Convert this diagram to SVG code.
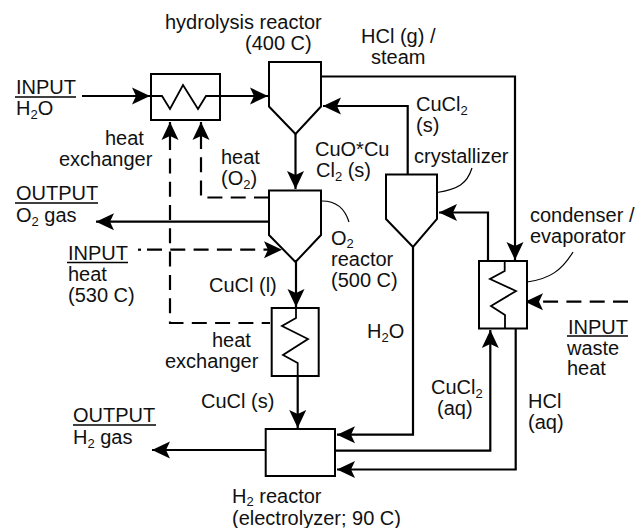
<svg xmlns="http://www.w3.org/2000/svg" width="636" height="528" viewBox="0 0 636 528">
<style>
text{font-family:"Liberation Sans",Arial,sans-serif;font-size:20px;fill:#111}
.s{font-size:13px}
.b{fill:#fff;stroke:#000;stroke-width:2}
.z{fill:none;stroke:#000;stroke-width:1.8}
.c{fill:none;stroke:#000;stroke-width:2.2}
.d{stroke-dasharray:15 8.300}
.l{fill:none;stroke:#000;stroke-width:1.2}
.u{stroke:#000;stroke-width:1.5}
</style>
<defs>
<marker id="a" markerUnits="userSpaceOnUse" markerWidth="19" markerHeight="18" refX="18" refY="9" orient="auto"><path d="M0 0.500 L18 9 L0 17.500 L4 9Z" fill="#000"/></marker>
</defs>
<rect width="636" height="528" fill="#fff"/>
<g id="connectors">
<path class="c" marker-end="url(#a)" d="M82 96H150"/>
<path class="c" marker-end="url(#a)" d="M220 96H268"/>
<path class="c" marker-end="url(#a)" d="M295.500 134V189"/>
<path class="c" marker-end="url(#a)" d="M321 76.500H515V260"/>
<path class="c" marker-end="url(#a)" d="M407.700 174V106H323"/>
<path class="c" marker-end="url(#a)" d="M488 261V212.500H439"/>
<path class="c" marker-end="url(#a)" d="M413 247V434.700H337"/>
<path class="c" marker-end="url(#a)" d="M335 450.700H490.300V330"/>
<path class="c" marker-end="url(#a)" d="M515.700 329V469.500H337"/>
<path class="c d" marker-end="url(#a)" d="M628 301.700H525"/>
<path class="c" marker-end="url(#a)" d="M266 450H152"/>
<path class="c" marker-end="url(#a)" d="M297.700 376V428"/>
<path class="c" marker-end="url(#a)" d="M296 262V307"/>
<path class="c" marker-end="url(#a)" d="M269 221.700H96"/>
<path class="c" d="M138 249.700H141"/>
<path class="c d" marker-end="url(#a)" d="M147 249.700H282"/>
<path class="c d" marker-end="url(#a)" d="M269 197.500H201V122"/>
<path class="c d" stroke-dashoffset="6.700" marker-end="url(#a)" d="M270 323H170V122"/>
<path class="l" d="M322 201C337 201 345 209 349 222"/>
<path class="l" d="M437 192.500C458 189 467 184 472 168"/>
<path class="l" d="M527 282C550 279 562 270 573 252"/>
</g>
<g id="heat-exchanger-1"><rect class="b" x="151" y="74" width="69" height="46"/><path class="z" d="M151 96H162L170 109L183 85L198 109L206 96H220"/>
<text x="105" y="145">heat</text><text x="59" y="166">exchanger</text></g>
<g id="hydrolysis-reactor"><path class="b" d="M269 62H321V106.500L295.500 134L269 106.500Z"/>
<text x="165" y="29">hydrolysis reactor</text><text x="245" y="50">(400 C)</text></g>
<g id="o2-reactor"><path class="b" d="M269 190.500H321V235L295.500 262L269 235Z"/>
<text x="331" y="245">O<tspan class="s" dy="3">2</tspan></text><text x="331" y="266">reactor</text><text x="331" y="287">(500 C)</text></g>
<g id="crystallizer"><path class="b" d="M386 174.500H437V219L413 247L386 219Z"/>
<text x="414" y="163">crystallizer</text></g>
<g id="condenser"><rect class="b" x="479" y="261" width="48" height="67.500"/><path class="z" d="M504.700 261V271L490 279L516 291L491 306L505 315V328"/>
<text x="530" y="222">condenser /</text><text x="530" y="243">evaporator</text></g>
<g id="heat-exchanger-2"><rect class="b" x="271.700" y="308" width="47" height="68"/><path class="z" d="M296 308V318L282 326L308 339L283 355L297.700 363V376"/>
<text x="212" y="347">heat</text><text x="165" y="368">exchanger</text></g>
<g id="h2-reactor"><rect class="b" x="265.700" y="429" width="69.300" height="47"/>
<text x="232" y="503">H<tspan class="s" dy="3">2</tspan><tspan dy="-3"> reactor</tspan></text><text x="232" y="525">(electrolyzer; 90 C)</text></g>
<g id="input-h2o"><text x="16" y="94">INPUT</text><line class="u" x1="15" x2="76" y1="97" y2="97"/><text x="16" y="115">H<tspan class="s" dy="4">2</tspan><tspan dy="-4">O</tspan></text></g>
<g id="output-o2"><text x="16" y="200">OUTPUT</text><line class="u" x1="15" x2="98" y1="203" y2="203"/><text x="16" y="222">O<tspan class="s" dy="4">2</tspan><tspan dy="-4"> gas</tspan></text></g>
<g id="input-heat"><text x="68" y="260">INPUT</text><line class="u" x1="67" x2="128" y1="262.500" y2="262.500"/><text x="68" y="281">heat</text><text x="68" y="302">(530 C)</text></g>
<g id="output-h2"><text x="73" y="422">OUTPUT</text><line class="u" x1="73" x2="156" y1="425" y2="425"/><text x="73" y="444">H<tspan class="s" dy="4">2</tspan><tspan dy="-4"> gas</tspan></text></g>
<g id="input-waste"><text x="568" y="334">INPUT</text><line class="u" x1="567" x2="628" y1="336" y2="336"/><text x="567" y="354.500">waste</text><text x="567" y="375">heat</text></g>
<g id="labels">
<text x="361" y="43">HCl (g) /</text><text x="371" y="64">steam</text>
<text x="221" y="164">heat</text><text x="221" y="185">(O<tspan class="s" dy="4">2</tspan><tspan dy="-4">)</tspan></text>
<text x="315" y="156">CuO*Cu</text><text x="316" y="177">Cl<tspan class="s" dy="4">2</tspan><tspan dy="-4"> (s)</tspan></text>
<text x="416" y="111">CuCl<tspan class="s" dy="4">2</tspan></text><text x="416" y="132">(s)</text>
<text x="209" y="292">CuCl (l)</text><text x="201" y="408">CuCl (s)</text>
<text x="367" y="338">H<tspan class="s" dy="4">2</tspan><tspan dy="-4">O</tspan></text>
<text x="431" y="394">CuCl<tspan class="s" dy="4">2</tspan></text><text x="437" y="415">(aq)</text>
<text x="528" y="408">HCl</text><text x="528" y="429">(aq)</text>
</g>
</svg>
